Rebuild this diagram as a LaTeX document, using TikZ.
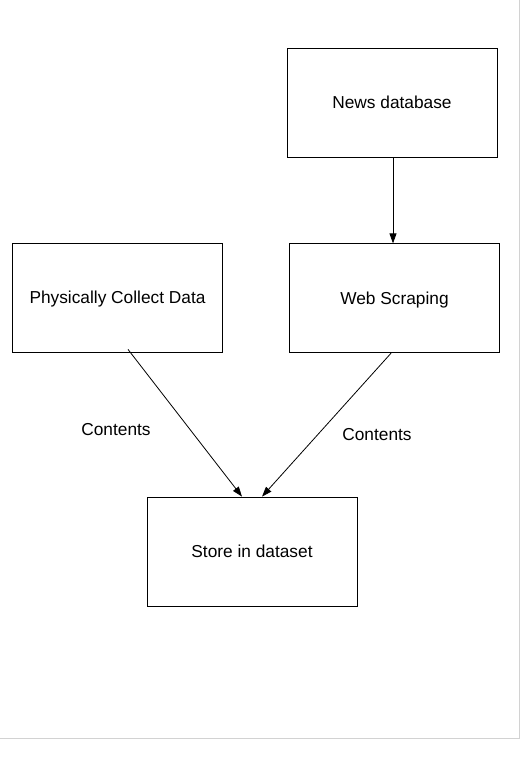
\documentclass[tikz,border=0pt]{standalone}
\usepackage{fontspec}
\setmainfont{Liberation Sans}
\usetikzlibrary{arrows.meta, positioning, calc}
\tikzset{
    >={Triangle[length=10pt, width=7pt]}, % narrow filled heads
    box/.style={
            draw,
            line width=0.8pt,
            minimum width=210pt, % set the width of the boxes
            minimum height=109pt, % set the height of the boxes
            inner sep=0pt,
            text height=12.4pt, % centre the capitals in the box
            text depth=0pt,
            font=\fontsize{17.3}{20}\selectfont,
        },
    flow/.style={->, line width=0.8pt},
    flowlabel/.style={font=\fontsize{17.3}{20}\selectfont, text height=12.4pt, text depth=0pt},
}
\begin{document}
\begin{tikzpicture}[x=1pt, y=-1pt]
                \useasboundingbox (0,0) rectangle (522,757);
                % page edge
                \draw[gray!35, line width=1.2pt] (0,738.5) -- (519.5,738.5) -- (519.5,0);

                % nodes
                \node[box] (news) at (392,102.5) {News database};
                \node[box, below=86pt of news, xshift=2.5pt] (web) {Web Scraping};
                \node[box] (collect) at (117.5,297.5) {Physically Collect Data};
                \node[box] (store) at (252,551.5) {Store in dataset};

                \node[flowlabel] (lblleft) at (116,429) {Contents};
                \node[flowlabel] (lblright) at (377,434) {Contents};

                % edges
                \draw[flow] ($(news.south)+(1,0)$) -- ($(web.north)+(-1.5,0)$);
                \draw[flow] ($(collect.south)+(10.5,-3)$) -- ($(store.north)+(-10,0)$);
                \draw[flow] ($(web.south)+(-3.5,0)$) -- ($(store.north)+(10,0)$);

\end{tikzpicture}
\end{document}
